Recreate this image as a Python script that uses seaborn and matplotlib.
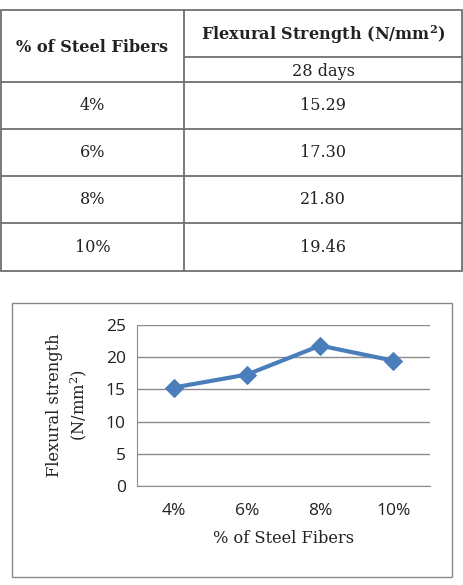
import matplotlib
matplotlib.use('Agg')
import matplotlib.pyplot as plt
import seaborn as sns
import pandas as pd
from matplotlib.lines import Line2D
from matplotlib.patches import Rectangle

# --- data ---
fiber_pct = ['4%', '6%', '8%', '10%']
strength_28d = [15.29, 17.30, 21.80, 19.46]
strength_labels = ['15.29', '17.30', '21.80', '19.46']
col_header_1 = '% of Steel Fibers'
col_header_2 = 'Flexural Strength (N/mm$^{\\mathregular{2}}$)'
sub_header = '28 days'
x_title = '% of Steel Fibers'
y_title = 'Flexural strength\n(N/mm$^{\\mathregular{2}}$)'
y_ticks = [0, 5, 10, 15, 20, 25]

sns.set_style('white')
plt.rcParams['font.family'] = ['DejaVu Serif']

W, H = 463, 585
fig = plt.figure(figsize=(W / 100, H / 100), dpi=100)


def fx(px):
    return px / W


def fy(py):
    return 1 - py / H


# --- 1. table on top ---
grid_col = '#707070'
tbl_left, tbl_right, tbl_top, tbl_bot = 1, 462, 10, 271
col_split = 184
sub_line = 57
row_lines = [82, 129, 176, 223]

fig.add_artist(Rectangle((fx(tbl_left), fy(tbl_bot)), fx(tbl_right - tbl_left),
                         (tbl_bot - tbl_top) / H, fill=False, ec=grid_col, lw=1.3))
fig.add_artist(Line2D([fx(col_split)] * 2, [fy(tbl_top), fy(tbl_bot)], color=grid_col, lw=1.3))
fig.add_artist(Line2D([fx(col_split), fx(tbl_right)], [fy(sub_line)] * 2, color=grid_col, lw=1.3))
for r in row_lines:
    fig.add_artist(Line2D([fx(tbl_left), fx(tbl_right)], [fy(r)] * 2, color=grid_col, lw=1.3))

c1 = (tbl_left + col_split) / 2
c2 = (col_split + tbl_right) / 2
txt_col = '#222222'
fig.text(fx(c1), fy(47), col_header_1, ha='center', va='center', fontsize=11.6,
         fontweight='bold', color=txt_col)
fig.text(fx(c2), fy(35), col_header_2, ha='center', va='center', fontsize=11.6,
         fontweight='bold', color=txt_col)
fig.text(fx(c2), fy(71), sub_header, ha='center', va='center', fontsize=11.6, color=txt_col)

row_edges = row_lines + [tbl_bot]
for i, (p, s) in enumerate(zip(fiber_pct, strength_labels)):
    yc = (row_edges[i] + row_edges[i + 1]) / 2
    fig.text(fx(c1), fy(yc), p, ha='center', va='center', fontsize=11.5, color=txt_col)
    fig.text(fx(c2), fy(yc), s, ha='center', va='center', fontsize=11.5, color=txt_col)

# --- 2. chart below ---
fig.add_artist(Rectangle((fx(12), fy(577)), fx(440), 274 / H, fill=False,
                         ec='#888888', lw=1.0))

ax = fig.add_axes([fx(137), fy(486), fx(293), 161 / H])
df = pd.DataFrame({'pct': fiber_pct, 'strength': strength_28d})
sns.lineplot(data=df, x='pct', y='strength', ax=ax, color='#4a7ebb', lw=3.0,
             marker='D', markersize=9, markeredgecolor='#4a7ebb', sort=False)

ax.set_xlim(-0.5, len(fiber_pct) - 0.5)
ax.set_ylim(0, 25)
ax.set_yticks(y_ticks)
ax.yaxis.grid(True, color='#8c8c8c', lw=1.0)
ax.set_axisbelow(True)
for side in ['top', 'right']:
    ax.spines[side].set_visible(False)
ax.spines['left'].set_color('#8c8c8c')
ax.spines['bottom'].set_color('#8c8c8c')
ax.tick_params(axis='y', length=5, color='#8c8c8c', width=1, pad=3, labelsize=12.5)
ax.tick_params(axis='x', length=0, pad=12, labelsize=12.5)
for lab in ax.get_xticklabels() + ax.get_yticklabels():
    lab.set_family('Open Sans')
    lab.set_color('#222222')

ax.set_xlabel(x_title, fontsize=11.7, color='#222222', labelpad=8)
ax.set_ylabel(y_title, fontsize=11.7, color='#222222', labelpad=12, linespacing=1.3)

plt.savefig('out.png', dpi=100)
